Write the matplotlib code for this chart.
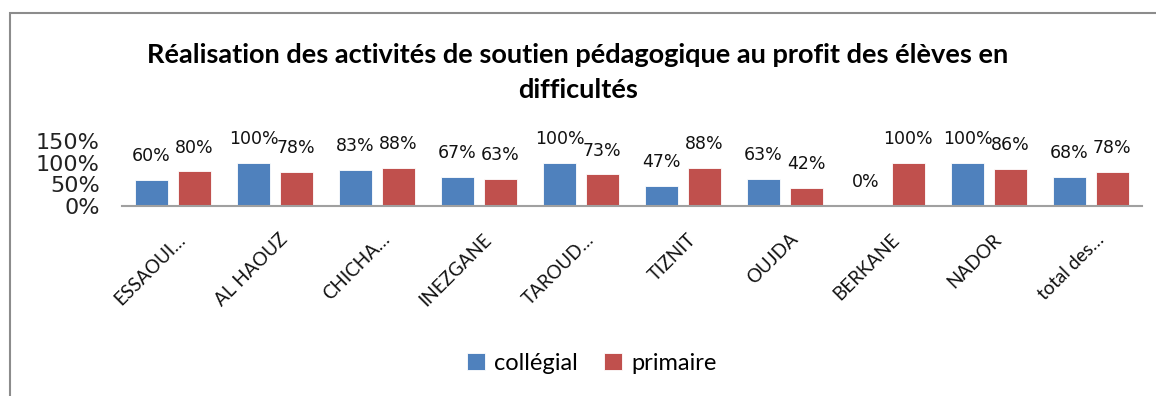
import numpy as np
import matplotlib.pyplot as plt
from matplotlib.patches import Rectangle
from matplotlib.transforms import ScaledTranslation

# Données
provinces = ["ESSAOUI…", "AL HAOUZ", "CHICHA…", "INEZGANE", "TAROUD…",
             "TIZNIT", "OUJDA", "BERKANE", "NADOR", "total des…"]
collegial = [60, 100, 83, 67, 100, 47, 63, 0, 100, 68]
primaire = [80, 78, 88, 63, 73, 88, 42, 100, 86, 78]

bleu = "#4F81BD"
rouge = "#C0504D"

fig = plt.figure(figsize=(11.56, 3.96), dpi=100)
fig.patches.append(Rectangle((10 / 1156, -0.1), 1.2, 1.1 - 13 / 396,
                             transform=fig.transFigure, fill=False,
                             edgecolor="#8c8c8c", linewidth=1.5))

ax = fig.add_axes([122 / 1156, 190 / 396, 1020 / 1156, 65 / 396])

x = np.arange(len(provinces))
w = 0.32
b1 = ax.bar(x - 0.21, np.array(collegial) / 100, w, color=bleu, edgecolor="white", linewidth=0.6, label="collégial")
b2 = ax.bar(x + 0.21, np.array(primaire) / 100, w, color=rouge, edgecolor="white", linewidth=0.6, label="primaire")

# étiquettes de valeurs
for bars, vals in ((b1, collegial), (b2, primaire)):
    for r, v in zip(bars, vals):
        ax.annotate(f"{v}%", (r.get_x() + r.get_width() / 2, r.get_height()),
                    xytext=(0, 13.5), textcoords="offset points", ha="center", va="baseline",
                    fontsize=12.5, family="DejaVu Sans", color="#111111",
                    annotation_clip=False)

ax.set_xlim(-0.5, len(provinces) - 0.5)
ax.set_ylim(0, 1.5)
ax.set_yticks([0, 0.5, 1, 1.5])
ax.set_yticklabels(["0%", "50%", "100%", "150%"], fontsize=16, family="DejaVu Sans", color="#222222")
ax.tick_params(axis="y", length=0, pad=16)
ax.tick_params(axis="x", length=0, pad=22)
ax.set_xticks(x)
ax.set_xticklabels(provinces, rotation=45, ha="right", va="center", rotation_mode="anchor",
                   fontsize=13.5, family="Lato", color="#111111")
decal = ScaledTranslation(10 / 100, 0, fig.dpi_scale_trans)
for lab in ax.get_xticklabels():
    lab.set_transform(lab.get_transform() + decal)
for s in ("top", "right", "left"):
    ax.spines[s].set_visible(False)
ax.spines["bottom"].set_color("#a0a0a0")
ax.spines["bottom"].set_linewidth(1.5)

fig.text(0.5, 1 - 55 / 396, "Réalisation des activités de soutien pédagogique au profit des élèves en",
         ha="center", va="center", fontsize=19.5, fontweight="bold", family="Lato")
fig.text(0.5, 1 - 90 / 396, "difficultés",
         ha="center", va="center", fontsize=19.5, fontweight="bold", family="Lato")

fig.legend(handles=[b1, b2], loc="center", bbox_to_anchor=(592 / 1156, 1 - 363 / 396),
           ncol=2, frameon=False, prop={"family": "Lato", "size": 17},
           handlelength=0.75, handleheight=0.75, handletextpad=0.4, columnspacing=1.1)

fig.savefig("out.png", dpi=100)
